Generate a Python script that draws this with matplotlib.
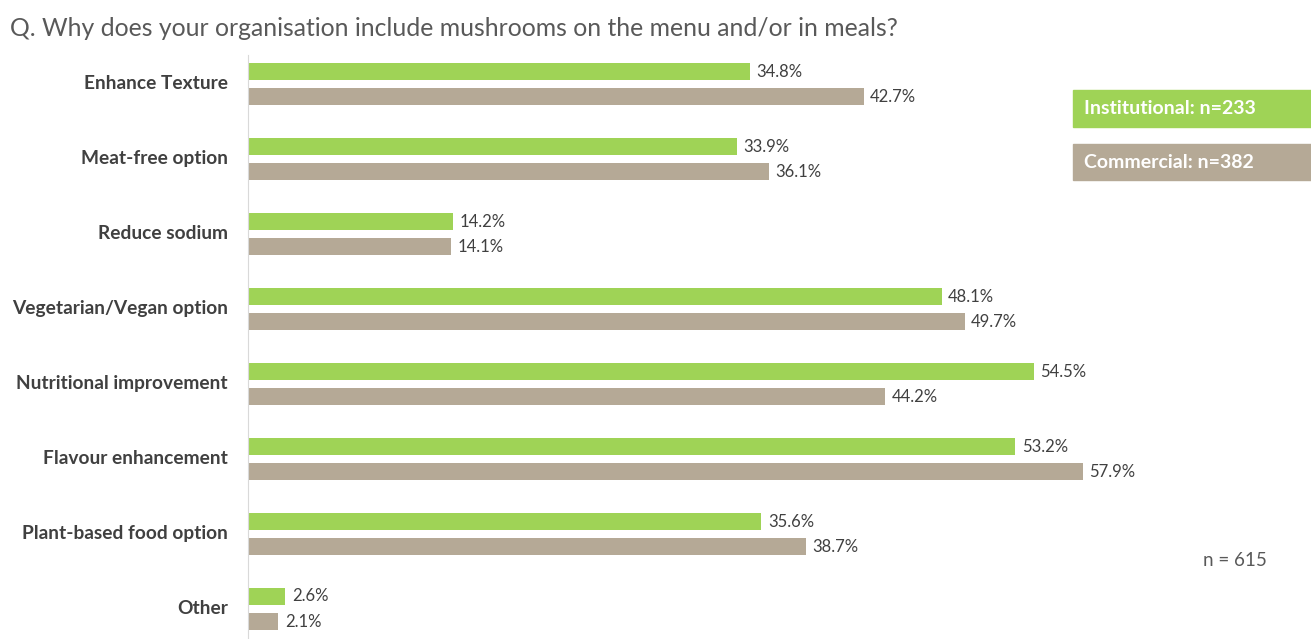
import matplotlib.pyplot as plt
from matplotlib.patches import Rectangle
import numpy as np

categories = ["Enhance Texture", "Meat-free option", "Reduce sodium",
              "Vegetarian/Vegan option", "Nutritional improvement",
              "Flavour enhancement", "Plant-based food option", "Other"]
institutional = [34.8, 33.9, 14.2, 48.1, 54.5, 53.2, 35.6, 2.6]
commercial = [42.7, 36.1, 14.1, 49.7, 44.2, 57.9, 38.7, 2.1]
series_labels = ["Institutional: n=233", "Commercial: n=382"]

GREEN = "#9fd356"
BROWN = "#b5a996"
TEXT = "#404040"

plt.rcParams['font.family'] = ['Lato', 'DejaVu Sans']

W, H = 1311, 639
fig = plt.figure(figsize=(W / 100, H / 100), dpi=100)
ax = fig.add_axes([248 / W, 0, (W - 248) / W, (H - 55) / H])

y = np.arange(len(categories))
off = 0.167
h = 0.227
ax.barh(y - off, institutional, height=h, color=GREEN)
ax.barh(y + off, commercial, height=h, color=BROWN)

# value labels at the end of each bar
for yi, v in zip(y, institutional):
    ax.text(v + 0.45, yi - off, f"{v:.1f}%", va="center", ha="left", fontsize=12, color=TEXT)
for yi, v in zip(y, commercial):
    ax.text(v + 0.45, yi + off, f"{v:.1f}%", va="center", ha="left", fontsize=12, color=TEXT)

ax.set_xlim(0, (W - 248) / 14.42)
ax.set_ylim(7.4, -0.39)
ax.set_yticks(y - 0.03)
ax.set_yticklabels(categories, fontsize=13.8, fontweight="bold", color=TEXT)
ax.tick_params(axis="y", length=0, pad=14.4)
ax.set_xticks([])
for s in ["top", "right", "bottom"]:
    ax.spines[s].set_visible(False)
ax.spines["left"].set_color("#d9d9d9")

fig.text(10 / W, 1 - 28 / H, "Q. Why does your organisation include mushrooms on the menu and/or in meals?",
         fontsize=17.8, color="#595959", va="center", ha="left")

# legend boxes on the right
for (top, bot), col, lab in zip([(90, 127), (144, 180)], [GREEN, BROWN], series_labels):
    fig.patches.append(Rectangle((1073 / W, 1 - bot / H), (W - 1073) / W, (bot - top) / H,
                                 transform=fig.transFigure, color=col))
    fig.text(1084 / W, 1 - (top + bot) / 2 / H, lab, fontsize=14, fontweight="bold",
             color="white", va="center", ha="left")

fig.text(1267 / W, 1 - 560 / H, "n = 615", fontsize=13.5, color="#595959", va="center", ha="right")

fig.savefig("out.png", dpi=100)
